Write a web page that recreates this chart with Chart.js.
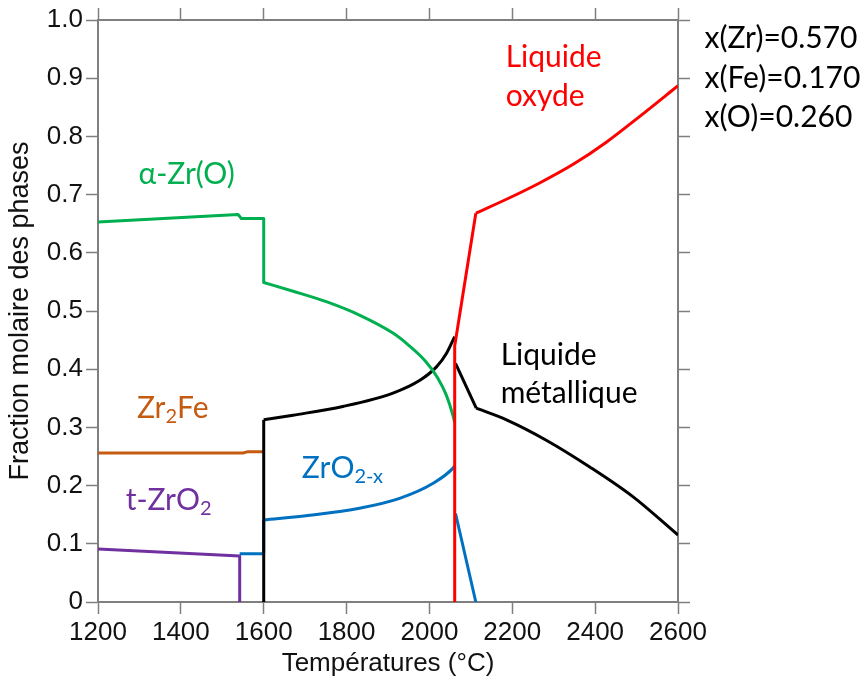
<!DOCTYPE html>
<html>
<head>
<meta charset="utf-8">
<script src="https://cdn.jsdelivr.net/npm/chart.js@4.4.1/dist/chart.umd.min.js"></script>
<style>
  html, body { margin: 0; padding: 0; background: #fff; }
  #wrap { width: 866px; height: 682px; }
</style>
</head>
<body>
<div id="wrap"><canvas id="phaseChart" width="866" height="682"></canvas></div>
<script>
// ================================
// PHASE FRACTIONS vs TEMPERATURE
// ================================

// x axis range and ticks
const tMin = 1200, tMax = 2600, tStep = 200;
const yMin = 0, yMax = 1, yStep = 0.1;

// Liquide oxyde (red): vertical jump + steep rise, then smooth curve
const liqOxT = [2061, 2061, 2112];
const liqOxY = [0, 0.44, 0.668];
const liqOxCurveT = [2112, 2186, 2266, 2347, 2427, 2507, 2600];
const liqOxCurveY = [0.668, 0.692, 0.720, 0.752, 0.790, 0.834, 0.887];

// alpha-Zr(O) (green)
const alphaT = [1200, 1538, 1546, 1600, 1600];
const alphaY = [0.653, 0.666, 0.659, 0.659, 0.549];
const alphaCurveT = [1600, 1671, 1751, 1831, 1912, 1950, 1990, 2020, 2041, 2057, 2061];
const alphaCurveY = [0.549, 0.534, 0.516, 0.493, 0.462, 0.441, 0.414, 0.385, 0.355, 0.320, 0.308];

// Liquide metallique (black), two branches
const liqMetT1 = [1600, 1600];
const liqMetY1 = [0, 0.313];
const liqMetCurveT1 = [1600, 1671, 1791, 1912, 1977, 2017, 2041, 2061];
const liqMetCurveY1 = [0.313, 0.321, 0.336, 0.359, 0.381, 0.404, 0.427, 0.456];
const liqMetT2 = [2063, 2113];
const liqMetY2 = [0.41, 0.333];
const liqMetCurveT2 = [2113, 2186, 2282, 2387, 2491, 2600];
const liqMetCurveY2 = [0.333, 0.313, 0.278, 0.232, 0.181, 0.115];

// ZrO2-x (blue), two branches
const zro2xT1 = [1542, 1600, 1600];
const zro2xY1 = [0.083, 0.083, 0.141];
const zro2xCurveT1 = [1600, 1711, 1831, 1928, 2009, 2057, 2061];
const zro2xCurveY1 = [0.141, 0.149, 0.161, 0.178, 0.204, 0.230, 0.234];
const zro2xT2 = [2063, 2112];
const zro2xY2 = [0.152, 0];

// Zr2Fe (orange)
const zr2feT = [1200, 1550, 1560, 1600];
const zr2feY = [0.256, 0.256, 0.258, 0.258];

// t-ZrO2 (purple)
const tzro2T = [1200, 1542, 1542];
const tzro2Y = [0.091, 0.079, 0];

// build point lists for the scatter/line datasets
function pts(ts, ys) {
  return ts.map((t, i) => ({ x: t, y: ys[i] }));
}

// smooth = monotone cubic through the points (x always increasing there)
function series(ts, ys, color, smooth) {
  return {
    data: pts(ts, ys),
    showLine: true,
    borderColor: color,
    backgroundColor: color,
    borderWidth: 3,
    pointRadius: 0,
    cubicInterpolationMode: smooth ? "monotone" : "default",
    tension: 0,
    borderJoinStyle: "round"
  };
}

const RED = "#ff0000", GREEN = "#00b050", BLACK = "#000000";
const BLUE = "#0070c0", ORANGE = "#c55a11", PURPLE = "#7030a0";

// ================================
// TEXT LABELS ON THE PLOT
// ================================
const LABEL_FONT = "Lato, 'Open Sans', sans-serif";
const labels = [
  { parts: [["Liquide", 0]], t: 2184, v: 0.936, color: RED },
  { parts: [["oxyde", 0]], t: 2184, v: 0.868, color: RED },
  { parts: [["\u03b1-Zr(O)", 0]], t: 1298, v: 0.734, color: GREEN },
  { parts: [["Liquide", 0]], t: 2172, v: 0.424, color: BLACK },
  { parts: [["m\u00e9tallique", 0]], t: 2172, v: 0.359, color: BLACK },
  { parts: [["Zr", 0], ["2", 1], ["Fe", 0]], t: 1294, v: 0.332, color: ORANGE },
  { parts: [["t-ZrO", 0], ["2", 1]], t: 1267, v: 0.175, color: PURPLE },
  { parts: [["ZrO", 0], ["2-x", 1]], t: 1692, v: 0.229, color: BLUE },
  { parts: [["x(Zr)=0.570", 0]], t: 2664, v: 0.969, color: BLACK },
  { parts: [["x(Fe)=0.170", 0]], t: 2664, v: 0.900, color: BLACK },
  { parts: [["x(O)=0.260", 0]], t: 2664, v: 0.833, color: BLACK }
];

const textPlugin = {
  id: "phaseLabels",
  afterDatasetsDraw(chart) {
    const ctx = chart.ctx;
    const xs = chart.scales.x, ys = chart.scales.y;
    ctx.save();
    ctx.textBaseline = "middle";
    ctx.textAlign = "left";
    labels.forEach(l => {
      let px = xs.getPixelForValue(l.t);
      let py = ys.getPixelForValue(l.v);
      ctx.fillStyle = l.color;
      l.parts.forEach(p => {
        if (p[1]) {
          ctx.font = "20px " + LABEL_FONT;
          ctx.fillText(p[0], px, py + 8);
        } else {
          ctx.font = "30px " + LABEL_FONT;
          ctx.fillText(p[0], px, py);
        }
        px += ctx.measureText(p[0]).width;
      });
    });
    ctx.restore();
  }
};

// ================================
// CHART
// ================================
const AXIS_GRAY = "#7f7f7f";
const AXIS_FAMILY = "'Liberation Sans', Arial, sans-serif";
const TICK_FONT = { family: AXIS_FAMILY, size: 26 };

function boxAxis(extra) {
  return Object.assign({
    grid: { drawOnChartArea: false, drawTicks: true, tickLength: 12, tickColor: AXIS_GRAY, tickWidth: 1.5 },
    border: { display: true, color: AXIS_GRAY, width: 2 }
  }, extra);
}

let ctx = document.getElementById("phaseChart").getContext("2d");

let chart = new Chart(ctx, {
  type: "scatter",
  data: {
    datasets: [
      series(liqOxT, liqOxY, RED),
      series(liqOxCurveT, liqOxCurveY, RED, true),
      series(alphaT, alphaY, GREEN),
      series(alphaCurveT, alphaCurveY, GREEN, true),
      series(liqMetT1, liqMetY1, BLACK),
      series(liqMetCurveT1, liqMetCurveY1, BLACK, true),
      series(liqMetT2, liqMetY2, BLACK),
      series(liqMetCurveT2, liqMetCurveY2, BLACK, true),
      series(zro2xT1, zro2xY1, BLUE),
      series(zro2xCurveT1, zro2xCurveY1, BLUE, true),
      series(zro2xT2, zro2xY2, BLUE),
      series(zr2feT, zr2feY, ORANGE),
      series(tzro2T, tzro2Y, PURPLE)
    ]
  },
  options: {
    responsive: false,
    animation: false,
    devicePixelRatio: 1,
    layout: { padding: 0 },
    plugins: { legend: { display: false }, tooltip: { enabled: false } },
    scales: {
      x: boxAxis({
        type: "linear", position: "bottom", min: tMin, max: tMax,
        ticks: { stepSize: tStep, color: "#111", font: TICK_FONT, padding: 3, maxRotation: 0,
          callback: v => String(v) },
        title: { display: true, text: "Temp\u00e9ratures (\u00b0C)", color: "#111", font: TICK_FONT, padding: { top: 0, bottom: 3 } },
        afterFit: s => { s.height = 80; }
      }),
      x2: boxAxis({
        type: "linear", position: "top", min: tMin, max: tMax,
        ticks: { stepSize: tStep, display: false },
        afterFit: s => { s.height = 20; }
      }),
      y: boxAxis({
        type: "linear", position: "left", min: yMin, max: yMax,
        ticks: { stepSize: yStep, color: "#111", font: TICK_FONT, padding: 3,
          callback: v => v === 0 ? "0" : v.toFixed(1) },
        title: { display: true, text: "Fraction molaire des phases", color: "#111",
          font: { family: AXIS_FAMILY, size: 27 }, padding: { top: 4, bottom: 0 } },
        afterFit: s => { s.width = 98; }
      }),
      y2: boxAxis({
        type: "linear", position: "right", min: yMin, max: yMax,
        ticks: { stepSize: yStep, display: false },
        afterFit: s => { s.width = 188; }
      })
    }
  },
  plugins: [textPlugin]
});
</script>
</body>
</html>
